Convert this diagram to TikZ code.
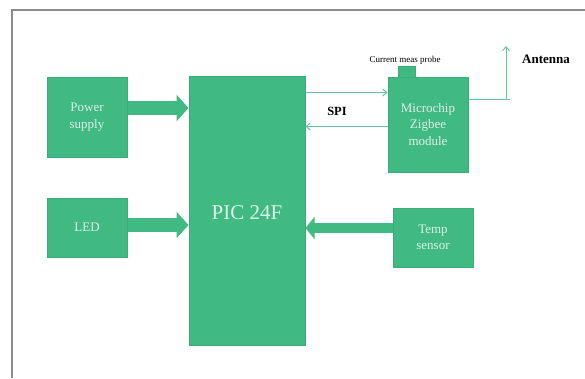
\documentclass[tikz,border=0pt]{standalone}
\usepackage{fontspec}
\setmainfont{Liberation Serif}
\usetikzlibrary{arrows.meta}
\definecolor{boxgreen}{RGB}{65,185,131}
\definecolor{edgegreen}{RGB}{58,172,120}
\definecolor{txtgreen}{RGB}{220,242,230}
\definecolor{thingreen}{RGB}{100,200,155}
\definecolor{framegray}{RGB}{140,140,140}
\tikzset{
  blk/.style={draw=edgegreen, fill=boxgreen, line width=1pt, text=txtgreen,
    inner sep=0pt, align=center, font=\fontsize{13}{16.5}\selectfont},
  fatarrow/.style={draw=boxgreen, line width=14pt,
    -{Triangle[width=26pt,length=12pt]}},
  thinarrow/.style={draw=thingreen, line width=1pt, -{Straight Barb[length=4pt,width=7pt]}},
  lbl/.style={inner sep=0pt, text=black}
}
\begin{document}
\begin{tikzpicture}[x=1pt,y=-1pt]
\useasboundingbox (0,0) rectangle (585,378);
% frame
\draw[framegray, line width=1.6pt] (12,378) -- (12,10) -- (585,10);
% blocks
\node[blk, minimum width=80pt, minimum height=80pt] (power) at (87,117) {Power\\supply};
\node[blk, minimum width=80pt, minimum height=59pt] (led) at (87,227.5) {LED};
\node[blk, minimum width=116pt, minimum height=269pt] (pic) at (247,211) {};
\node[lbl, text=txtgreen, font=\fontsize{21}{24}\selectfont] (pictext) at (247,213) {PIC 24F};
\node[blk, minimum width=80pt, minimum height=95pt] (zig) at (428,124.5) {Microchip\\Zigbee\\module};
\node[blk, minimum width=17pt, minimum height=11pt] (probe) at (406.5,71.5) {};
\node[blk, minimum width=80pt, minimum height=59pt] (temp) at (433,237.5) {Temp\\sensor};
% labels
\node[lbl, font=\fontsize{9}{10}\selectfont] (probelbl) at (405,60.5) {Current meas probe};
\node[lbl, font=\bfseries\fontsize{12.5}{14}\selectfont] (spi) at (337,111) {SPI};
\node[lbl, font=\bfseries\fontsize{13}{15}\selectfont] (ant) at (546,59) {Antenna};
% fat arrows
\draw[fatarrow] ([yshift=9pt]power.east) -- ([yshift=9pt]power.east -| pic.west);
\draw[fatarrow] ([yshift=2.5pt]led.east) -- ([yshift=2.5pt]led.east -| pic.west);
\draw[fatarrow, line width=10pt, -{Triangle[width=22pt,length=9pt]}] ([yshift=9.5pt]temp.west) -- ([yshift=9.5pt]temp.west -| pic.east);
% SPI arrows
\draw[thinarrow] ([yshift=-16pt]zig.north west -| pic.east) -- ([yshift=-16pt]zig.north west);
\draw[thinarrow] ([yshift=46pt]zig.south west) -- ([yshift=46pt]zig.south west -| pic.east);
% antenna
\coordinate (antbase) at (506,99);
\coordinate (anttip) at (506,46);
\draw[draw=thingreen, line width=1pt] (zig.east |- antbase) -- (510,99);
\draw[thinarrow] (antbase) -- (anttip);
\end{tikzpicture}
\end{document}
